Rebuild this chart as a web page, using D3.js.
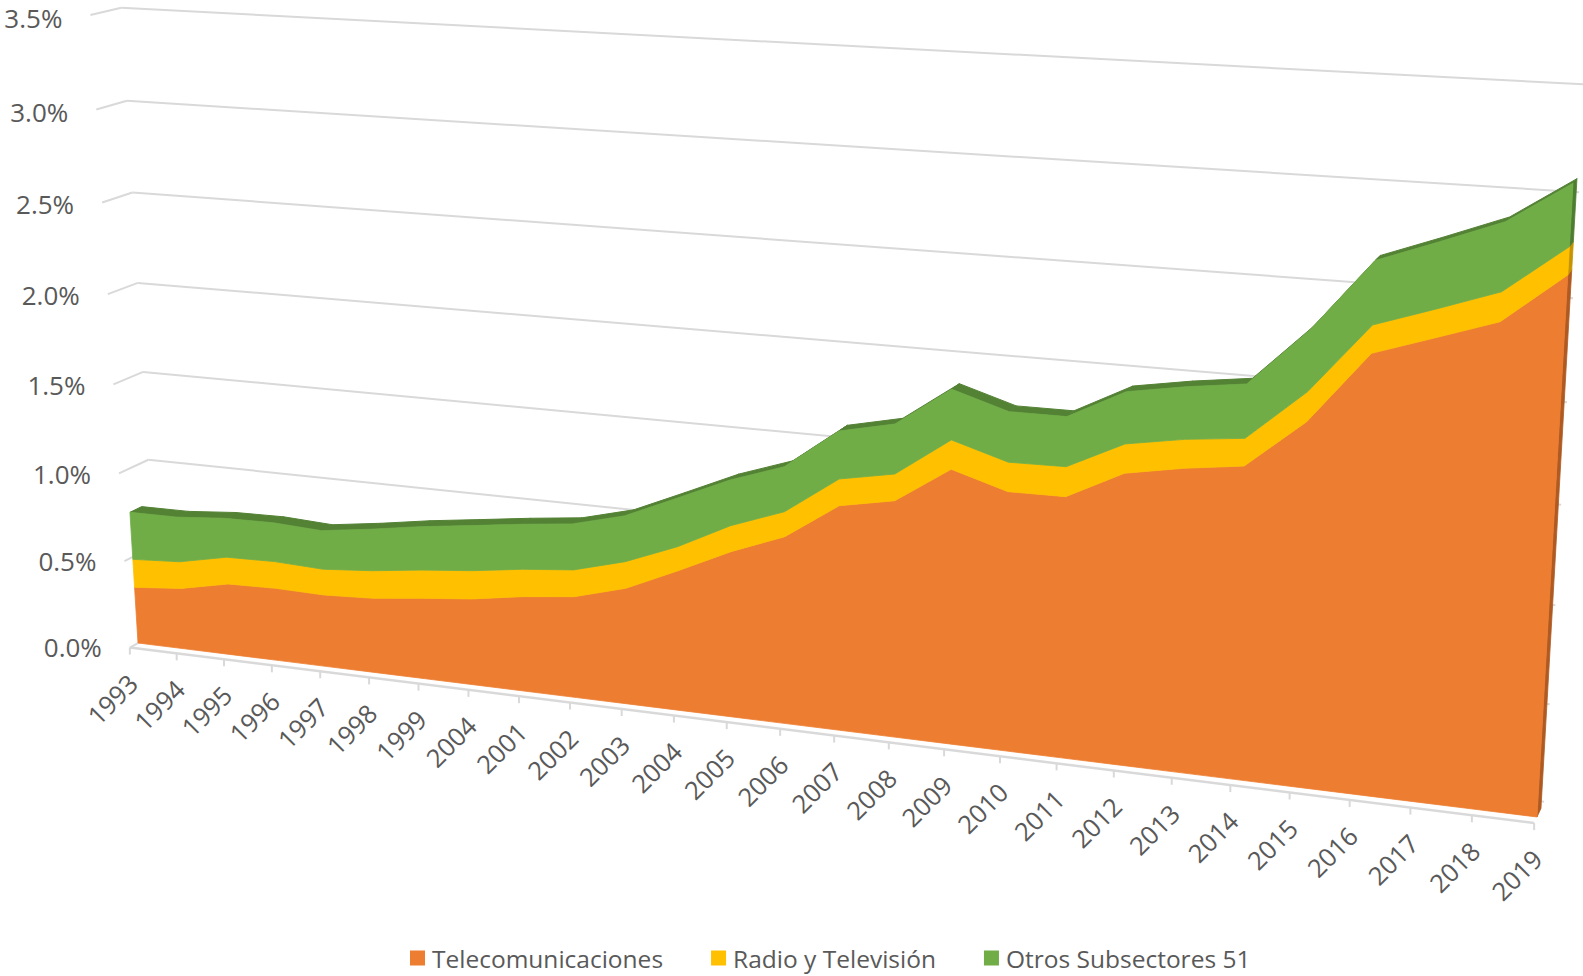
<!DOCTYPE html>
<html>
<head>
<meta charset="utf-8">
<script src="https://cdn.jsdelivr.net/npm/d3@7"></script>
<style>
  body { margin: 0; background: #fff; }
  svg { display: block; font-family: "Open Sans", sans-serif; }
</style>
</head>
<body>
<svg id="chart"></svg>
<script>
var W = 1583, H = 976;

// data (share of GDP, %)
var years = ['1993','1994','1995','1996','1997','1998','1999','2004','2001','2002','2003','2004','2005','2006',
             '2007','2008','2009','2010','2011','2012','2013','2014','2015','2016','2017','2018','2019'];
var telecom = [0.324, 0.350, 0.407, 0.414, 0.408, 0.422, 0.454, 0.483, 0.528, 0.560, 0.638, 0.765, 0.899, 1.009,
               1.203, 1.258, 1.450, 1.363, 1.366, 1.514, 1.567, 1.606, 1.853, 2.212, 2.311, 2.411, 2.654];
var radioTv = [0.162, 0.153, 0.153, 0.152, 0.146, 0.155, 0.158, 0.157, 0.151, 0.147, 0.145, 0.130, 0.139, 0.133,
               0.140, 0.139, 0.151, 0.151, 0.153, 0.148, 0.145, 0.138, 0.148, 0.137, 0.138, 0.142, 0.132];
var otros = [0.270, 0.255, 0.221, 0.220, 0.217, 0.232, 0.241, 0.249, 0.247, 0.251, 0.248, 0.260, 0.243, 0.237,
             0.250, 0.259, 0.259, 0.258, 0.254, 0.262, 0.262, 0.269, 0.300, 0.309, 0.319, 0.329, 0.294];
var seriesNames = ['Telecomunicaciones', 'Radio y Televisión', 'Otros Subsectores 51'];
var yTicks = [0, 0.5, 1.0, 1.5, 2.0, 2.5, 3.0, 3.5];

var color_front = ['#ED7D31', '#FFC000', '#70AD47'],
    color_side  = ['#AE5A22', '#C59400', '#4E7D31'],
    color_top   = '#548235',
    color_grid  = '#D9D9D9',
    color_text  = '#595959';

// depth positions (in slab-depth units)
var zFloorFront = -0.7,
    zSlabFront = 0,
    zSlabBack = 1,
    zBackWall = 1.8;

var svg = d3.select('#chart')
            .attr('width', W)
            .attr('height', H);

var xScale = d3.scaleLinear().domain([0, years.length - 1]).range([0, 1]);
var yScale = d3.scaleLinear().domain([0, 3.5]).range([0, 1]);

// perspective camera: image of the origin and of the three axis directions (homogeneous)
var cam = {
    o:  [138, 643, 1],
    px: [1188.4, 62.07, -0.137],
    py: [-43.82, -630.7, -0.05032],
    pz: [12.39, -2.714, 0.0058]
};
function project(X, Y, Z){
    var u = cam.o[0] + X * cam.px[0] + Y * cam.py[0] + Z * cam.pz[0];
    var v = cam.o[1] + X * cam.px[1] + Y * cam.py[1] + Z * cam.pz[1];
    var w = cam.o[2] + X * cam.px[2] + Y * cam.py[2] + Z * cam.pz[2];
    return [u / w, v / w];
}

var lineGenerator = d3.line();
function poly(points){ return lineGenerator(points) + 'Z'; }

var rows = years.map(function(y, i){
    return {i: i, telecom: telecom[i], radio: radioTv[i], otros: otros[i]};
});
var stacked = d3.stack().keys(['telecom', 'radio', 'otros'])(rows);

//walls: gridlines on the back wall and on the left wall
var gWalls = svg.append('g').attr('id', 'walls');
yTicks.forEach(function(v){
    gWalls.append('path')
          .attr('d', lineGenerator([project(0, yScale(v), zBackWall), project(1, yScale(v), zBackWall)]))
          .attr('fill', 'none')
          .attr('stroke', color_grid)
          .attr('stroke-width', 2);
    gWalls.append('path')
          .attr('d', lineGenerator([project(0, yScale(v), zFloorFront), project(0, yScale(v), zBackWall)]))
          .attr('fill', 'none')
          .attr('stroke', color_grid)
          .attr('stroke-width', 2);
});

//category axis on the floor front edge
var gAxis = svg.append('g').attr('id', 'xAxis');
gAxis.append('path')
     .attr('d', lineGenerator([project(0, 0, zFloorFront), project(1, 0, zFloorFront)]))
     .attr('fill', 'none')
     .attr('stroke', color_grid)
     .attr('stroke-width', 2.5);
years.forEach(function(y, i){
    var p0 = project(xScale(i), 0, zFloorFront);
    gAxis.append('line')
         .attr('x1', p0[0]).attr('y1', p0[1])
         .attr('x2', p0[0]).attr('y2', p0[1] + 7)
         .attr('stroke', color_grid)
         .attr('stroke-width', 2);
    gAxis.append('text')
         .attr('transform', 'translate(' + (p0[0] + 3) + ',' + (p0[1] + 31) + ') rotate(-45)')
         .attr('text-anchor', 'end')
         .attr('dominant-baseline', 'central')
         .attr('fill', color_text)
         .attr('font-size', '25.5px')
         .text(y);
});

//value axis labels at the front edge of the left wall
var gYAxis = svg.append('g').attr('id', 'yAxis');
yTicks.forEach(function(v){
    var p = project(0, yScale(v), zFloorFront);
    gYAxis.append('text')
          .attr('x', p[0] - 28)
          .attr('y', p[1] - 1 + 4 * yScale(v))
          .attr('text-anchor', 'end')
          .attr('dominant-baseline', 'central')
          .attr('fill', color_text)
          .attr('font-size', '26px')
          .text(v.toFixed(1) + '%');
});

var gSlab = svg.append('g').attr('id', 'slab');

//top face of the stack (seen from above)
var topLayer = stacked[stacked.length - 1];
for (var i = 0; i < topLayer.length - 1; i++){
    var a = topLayer[i], b = topLayer[i + 1];
    var xa = xScale(a.data.i), xb = xScale(b.data.i);
    gSlab.append('path')
         .attr('d', poly([
             project(xa, yScale(a[1]), zSlabFront),
             project(xb, yScale(b[1]), zSlabFront),
             project(xb, yScale(b[1]), zSlabBack),
             project(xa, yScale(a[1]), zSlabBack)
         ]))
         .attr('fill', color_top)
         .attr('stroke', color_top)
         .attr('stroke-width', 1);
}

//right end faces
stacked.forEach(function(layer, k){
    var d = layer[layer.length - 1];
    var xe = xScale(d.data.i);
    gSlab.append('path')
         .attr('d', poly([
             project(xe, yScale(d[0]), zSlabFront),
             project(xe, yScale(d[1]), zSlabFront),
             project(xe, yScale(d[1]), zSlabBack),
             project(xe, yScale(d[0]), zSlabBack)
         ]))
         .attr('fill', color_side[k])
         .attr('stroke', color_side[k])
         .attr('stroke-width', 0.8);
});

//front faces
stacked.forEach(function(layer, k){
    var top = layer.map(function(d){ return project(xScale(d.data.i), yScale(d[1]), zSlabFront); });
    var bottom = layer.map(function(d){ return project(xScale(d.data.i), yScale(d[0]), zSlabFront); }).reverse();
    gSlab.append('path')
         .attr('d', poly(top.concat(bottom)))
         .attr('fill', color_front[k])
         .attr('stroke', color_front[k])
         .attr('stroke-width', 0.8)
         .attr('stroke-linejoin', 'round');
});

//legend
var gLegend = svg.append('g').attr('id', 'legend');
var lx = 410, ly = 958;
seriesNames.forEach(function(name, k){
    gLegend.append('rect')
           .attr('x', lx).attr('y', ly - 7.5)
           .attr('width', 15).attr('height', 15)
           .attr('fill', color_front[k]);
    var t = gLegend.append('text')
           .attr('x', lx + 22).attr('y', ly)
           .attr('dominant-baseline', 'central')
           .attr('fill', color_text)
           .attr('font-size', '24.5px')
           .text(name);
    lx += 22 + t.node().getComputedTextLength() + 48;
});
</script>
</body>
</html>
